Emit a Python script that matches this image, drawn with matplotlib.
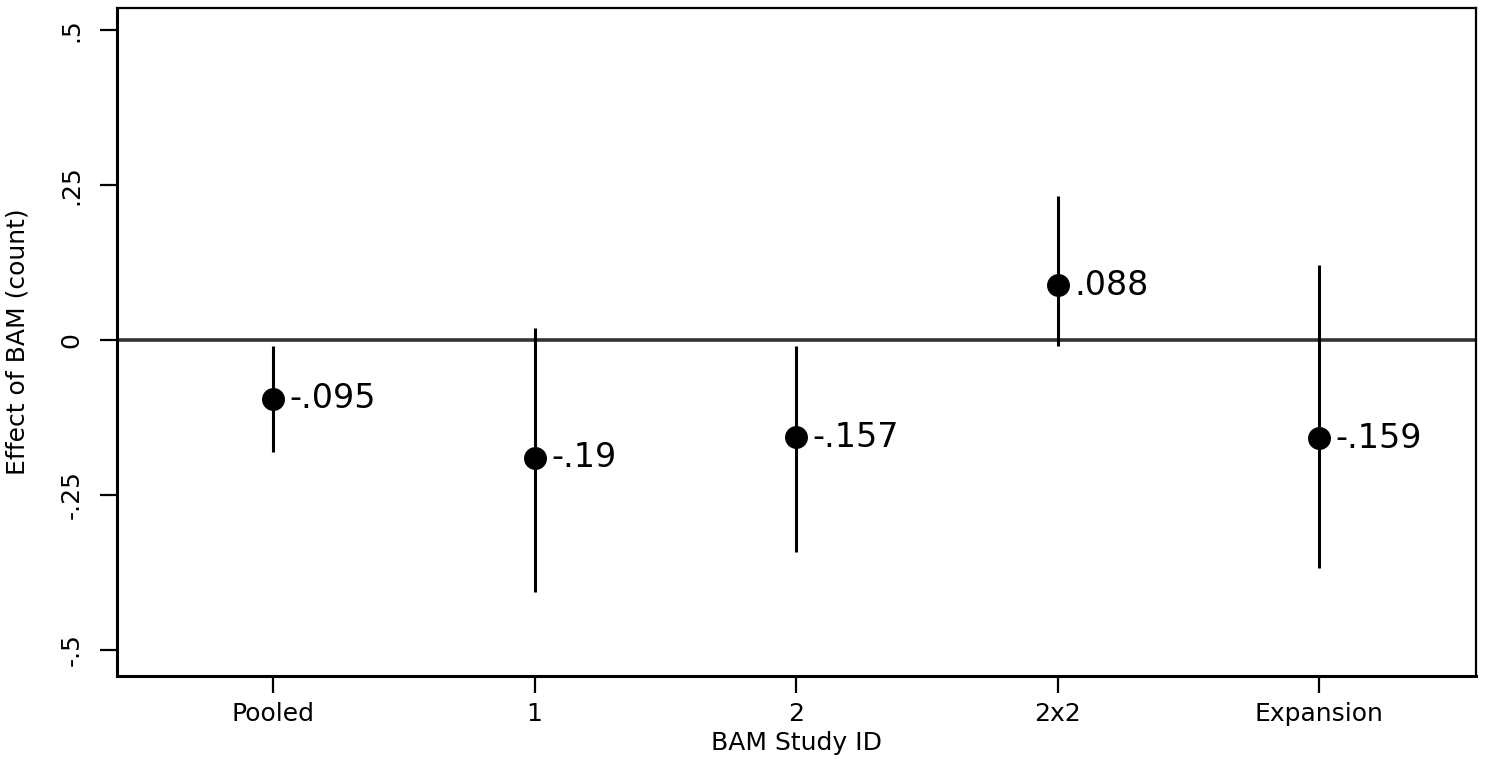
import matplotlib
matplotlib.use("Agg")
import matplotlib.pyplot as plt

studies = ["Pooled", "1", "2", "2x2", "Expansion"]
effects = [-0.095, -0.19, -0.157, 0.088, -0.159]
ci_low = [-0.181, -0.406, -0.342, -0.010, -0.368]
ci_high = [-0.010, 0.019, -0.010, 0.232, 0.121]
labels = ["-.095", "-.19", "-.157", ".088", "-.159"]
yticks = [-0.5, -0.25, 0, 0.25, 0.5]
ytick_labels = ["-.5", "-.25", "0", ".25", ".5"]

fig = plt.figure(figsize=(14.86, 7.59), dpi=100)
ax = fig.add_axes([0.0787, 0.1094, 0.9146, 0.8801])

x = list(range(len(studies)))
ax.axhline(0, color="#333333", lw=2.6, zorder=1)
ax.vlines(x, ci_low, ci_high, color="black", lw=2.2, zorder=2)
ax.plot(x, effects, "o", color="black", ms=15.5, zorder=3)
for xi, yi, lab in zip(x, effects, labels):
    ax.annotate(lab, (xi, yi), xytext=(12, 0), textcoords="offset points",
                va="center", ha="left", fontsize=24)

ax.set_xlim(-0.597, 4.6)
ax.set_ylim(-0.542, 0.535)
ax.set_xticks(x)
ax.set_xticklabels(studies)
ax.set_yticks(yticks)
ax.set_yticklabels(ytick_labels, rotation=90, va="center")
ax.tick_params(length=12, width=1.6, labelsize=18)
ax.tick_params(axis="x", pad=7)
ax.tick_params(axis="y", pad=12)
ax.set_xlabel("BAM Study ID", fontsize=18, labelpad=3)
ax.set_ylabel("Effect of BAM (count)", fontsize=18, labelpad=22)

for side in ["left", "bottom"]:
    ax.spines[side].set_linewidth(2.2)
for side in ["top", "right"]:
    ax.spines[side].set_linewidth(1.6)

fig.savefig("out.png", dpi=100)
